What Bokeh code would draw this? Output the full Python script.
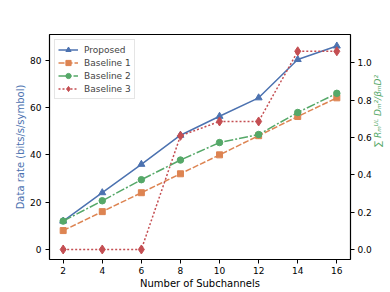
import math
from bokeh.plotting import figure
from bokeh.models import (Range1d, LinearAxis, FixedTicker, PrintfTickFormatter,
                          Legend, LegendItem)
from bokeh.embed import file_html
from bokeh.resources import INLINE

# ---- data ----
n_sub = [2, 4, 6, 8, 10, 12, 14, 16]
proposed = [12, 24, 36, 48.3, 56.3, 64.1, 80.3, 86.0]
baseline1 = [8, 16, 24, 32, 40, 48.1, 56.2, 64.1]
baseline2 = [12, 20.6, 29.5, 37.8, 45.2, 48.6, 57.9, 66.0]
baseline3 = [0, 0, 0, 0.609, 0.686, 0.686, 1.062, 1.062]   # right axis
x_ticks = [2, 4, 6, 8, 10, 12, 14, 16]
left_ticks = [0, 20, 40, 60, 80]
right_ticks = [0.0, 0.2, 0.4, 0.6, 0.8, 1.0]
series_names = ["Proposed", "Baseline 1", "Baseline 2", "Baseline 3"]

BLUE, ORANGE, GREEN, RED = "#4C72B0", "#DD8452", "#55A868", "#C44E52"
FONT = "DejaVu Sans"

p = figure(width=390, height=292, output_backend="svg", toolbar_location=None,
           x_range=Range1d(1.3, 16.7), y_range=Range1d(-4.23, 90.87),
           min_border_left=49, min_border_right=39, min_border_top=34, min_border_bottom=33)
p.extra_y_ranges = {"right": Range1d(-0.0536, 1.152)}
p.grid.visible = False
p.outline_line_color = "black"
p.outline_line_width = 1.2
p.background_fill_color = "white"
p.border_fill_color = "white"

right_axis = LinearAxis(y_range_name="right")
p.add_layout(right_axis, "right")

for ax in [p.xaxis[0], p.yaxis[0], right_axis]:
    ax.axis_line_color = None
    ax.major_tick_out = 4
    ax.major_tick_in = 0
    ax.minor_tick_line_color = None
    ax.major_tick_line_color = "black"
    ax.major_tick_line_width = 1
    ax.major_label_text_font = FONT
    ax.major_label_text_font_size = "9px"
    ax.major_label_text_color = "black"
    ax.major_label_standoff = 3
    ax.axis_label_text_font = FONT
    ax.axis_label_text_font_style = "normal"
    ax.axis_label_standoff = 1

p.xaxis[0].ticker = FixedTicker(ticks=x_ticks)
p.yaxis[0].ticker = FixedTicker(ticks=left_ticks)
right_axis.ticker = FixedTicker(ticks=right_ticks)
right_axis.formatter = PrintfTickFormatter(format="%.1f")

p.xaxis[0].axis_label = "Number of Subchannels"
p.xaxis[0].axis_label_text_font_size = "10px"
p.xaxis[0].axis_label_text_color = "black"

p.yaxis[0].axis_label = "Data rate (bits/s/symbol)"
p.yaxis[0].axis_label_text_color = BLUE
p.yaxis[0].axis_label_text_font_size = "10px"
p.yaxis[0].major_label_standoff = 4

right_axis.axis_label = "\u2211 R\u2098\u1D41\u1D38 D\u2098\u00B2/\u03B2\u2098D\u00B2"
right_axis.axis_label_text_color = GREEN
right_axis.axis_label_text_font_size = "9px"
right_axis.axis_label_text_font_style = "italic"
right_axis.axis_label_orientation = math.pi / 2
right_axis.axis_label_standoff = 3

# ---- series ----
l1 = p.line(n_sub, proposed, color=BLUE, line_width=1.5)
m1 = p.scatter(n_sub, proposed, marker="triangle", size=7, color=BLUE)
l2 = p.line(n_sub, baseline1, color=ORANGE, line_width=1.5, line_dash="6 2")
m2 = p.scatter(n_sub, baseline1, marker="square", size=6, color=ORANGE)
l3 = p.line(n_sub, baseline2, color=GREEN, line_width=1.5, line_dash="9 2 2 2")
m3 = p.scatter(n_sub, baseline2, marker="circle", size=6.5, color=GREEN)
l4 = p.line(n_sub, baseline3, color=RED, line_width=1.5, line_dash="2 2", y_range_name="right")
m4 = p.scatter(n_sub, baseline3, marker="diamond", size=9, color=RED, y_range_name="right")

items = [LegendItem(label=series_names[0], renderers=[l1, m1]),
         LegendItem(label=series_names[1], renderers=[l2, m2]),
         LegendItem(label=series_names[2], renderers=[l3, m3]),
         LegendItem(label=series_names[3], renderers=[l4, m4])]
legend = Legend(items=items, location="top_left", margin=5, padding=3, spacing=0,
                glyph_width=20, glyph_height=13, label_height=13, label_standoff=6,
                label_text_font=FONT, label_text_font_size="9px",
                border_line_color="#cccccc", border_line_width=1,
                background_fill_alpha=0.8)
p.add_layout(legend)

open("out.html", "w").write(file_html(p, INLINE))
